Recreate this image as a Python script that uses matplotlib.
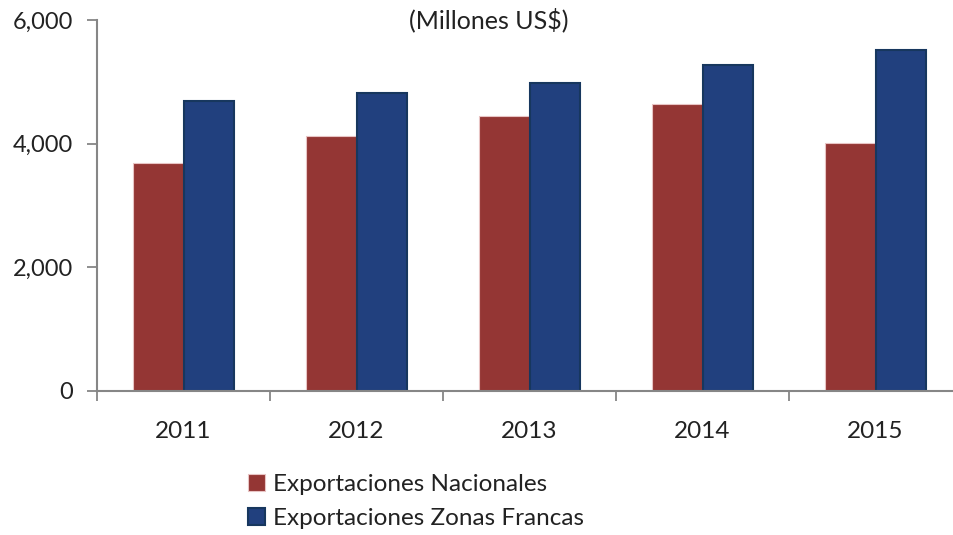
import matplotlib.pyplot as plt
import numpy as np

plt.rcParams['font.family'] = ['Lato', 'DejaVu Sans']

years = ['2011', '2012', '2013', '2014', '2015']
nacionales = [3690, 4130, 4450, 4640, 4015]
zonas_francas = [4695, 4815, 4975, 5265, 5515]

red = '#943634'
blue = '#21407e'
grey = '#868686'

fig = plt.figure(figsize=(9.54, 5.35), dpi=100)
ax = fig.add_axes([0.1017, 0.2697, 0.9067, 0.6929])

x = np.arange(len(years))
w = 0.292
ax.bar(x - w / 2, nacionales, w, color=red, edgecolor='#e8c4c4', linewidth=0.8,
       label='Exportaciones Nacionales')
ax.bar(x + w / 2, zonas_francas, w, color=blue, edgecolor='#17375e', linewidth=1.5,
       label='Exportaciones Zonas Francas')

ax.set_xlim(-0.5, len(years) - 0.5)
ax.set_ylim(0, 6000)
ax.set_yticks([0, 2000, 4000, 6000])
ax.set_yticklabels(['0', '2,000', '4,000', '6,000'])
ax.set_xticks(x)
ax.set_xticklabels(years)
ax.set_xticks(np.arange(-0.5, len(years)), minor=True)
ax.tick_params(axis='x', which='major', length=0, pad=22, labelsize=17.5, colors='#222222')
ax.tick_params(axis='x', which='minor', length=7, width=1.3, color=grey)
ax.tick_params(axis='y', length=7, width=1.3, color=grey, labelsize=17,
               labelcolor='#222222', pad=10)

for s in ['top', 'right']:
    ax.spines[s].set_visible(False)
for s in ['left', 'bottom']:
    ax.spines[s].set_color(grey)
    ax.spines[s].set_linewidth(1.5)

fig.text(489 / 954, 1 - 20 / 535, '(Millones US\\$)', ha='center', va='center',
         fontsize=18, color='#222222')

fig.legend(loc='upper left', bbox_to_anchor=(238 / 954, 1 - 464 / 535), frameon=False,
           fontsize=17.5, handlelength=0.7, handleheight=0.7, handletextpad=0.35,
           labelspacing=0.55, borderaxespad=0, labelcolor='#222222')

fig.savefig('out.png', dpi=100)
